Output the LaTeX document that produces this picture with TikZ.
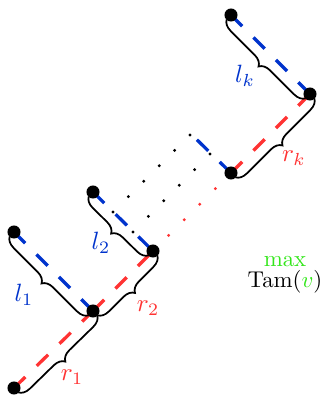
\documentclass[tikz,border=0pt]{standalone}
\usetikzlibrary{decorations.pathreplacing,calc,backgrounds}
\definecolor{lblue}{RGB}{0,51,204}
\definecolor{lred}{RGB}{255,51,51}
\definecolor{lgreen}{RGB}{51,230,26}
\begin{document}
\begin{tikzpicture}[x=0.46pt,y=-0.46pt,
  dot/.style={circle,fill=black,inner sep=0pt,minimum size=6pt},
  bluedash/.style={lblue,line width=1.5pt,dash pattern=on 7.3pt off 7.3pt},
  reddash/.style={lred,line width=1.5pt,dash pattern=on 7.3pt off 7.3pt},
  brc/.style={decorate,decoration={brace,amplitude=5pt,raise=2.8pt},thick},
  lab/.style={inner sep=0pt,scale=1.15},
  txt/.style={inner sep=0pt,scale=1.05}]
\useasboundingbox (0,0) rectangle (326,397);
% main vertices
\node[dot] (A) at (14,388) {};
\node[dot] (B) at (93,311) {};
\node[dot] (C) at (14,232) {};
\node[dot] (D) at (153,251) {};
\node[dot] (E) at (93,192) {};
\node[dot] (F) at (231,173) {};
\node[dot] (G) at (310,94) {};
\node[dot] (H) at (231,15) {};
\coordinate (P) at (190,133);
\coordinate (R1a) at (113,212);
\coordinate (R1b) at (190,135);
\coordinate (R2a) at (133,232);
\coordinate (R2b) at (210,154);
\begin{scope}[on background layer]
  % left (blue) paths
  \draw[bluedash] (C.center) -- (B.center);
  \draw[bluedash] (E.center) -- (D.center);
  \draw[bluedash] (H.center) -- (G.center);
  \draw[bluedash] (F.center) -- (P);
  % right (red) spine
  \draw[reddash] (A.center) -- (B.center);
  \draw[reddash] (B.center) -- (D.center);
  \draw[reddash] (F.center) -- (G.center);
  % dotted continuation
  \foreach \i in {0,...,5}{
    \fill[black] ($(R1a)!\i/5!(R1b)$) circle (0.75pt);
    \fill[black] ($(R2a)!\i/5!(R2b)$) circle (0.75pt);
    \fill[lred] ($(D.center)!\i/5!(F.center)$) circle (0.75pt);
  }
  % braces
  \draw[brc] (B.center) -- (C.center);
  \draw[brc] (D.center) -- (E.center);
  \draw[brc] (G.center) -- (H.center);
  \draw[brc] (B.center) -- (A.center);
  \draw[brc] (D.center) -- (B.center);
  \draw[brc] (G.center) -- (F.center);
\end{scope}
% labels
\node[lab,text=lblue] (l1) at (24,295) {$l_1$};
\node[lab,text=lblue] (l2) at (101,243) {$l_2$};
\node[lab,text=lblue] (lk) at (245,76) {$l_k$};
\node[lab,text=lred] (r1) at (72,377) {$r_1$};
\node[lab,text=lred] (r2) at (148,308) {$r_2$};
\node[lab,text=lred] (rk) at (294,158) {$r_k$};
\node[txt,text=lgreen] (max) at (285,262) {max};
\node[txt] (tam) at (285,282) {Tam(\textcolor{lgreen}{$v$})};
\end{tikzpicture}
\end{document}
